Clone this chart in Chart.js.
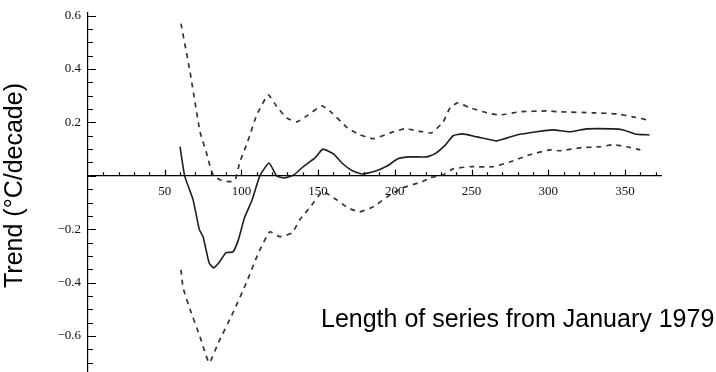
<!DOCTYPE html>
<html lang="en">
<head>
<meta charset="UTF-8">
<title>Trend vs length of series</title>
<script src="https://cdn.jsdelivr.net/npm/chart.js"></script>
<style>
  html, body { margin: 0; padding: 0; background: #ffffff; }
  #wrap { width: 716px; height: 372px; }
</style>
<script>
  // length of series (months) and trend values
  const trendLen = [60, 63, 68.5, 72.5, 75, 79, 82, 86, 90, 94.5, 98, 102, 107, 112, 118, 123, 128, 134, 140, 148, 153, 160, 165.5, 172, 178.5, 186, 195, 202, 210, 221, 226, 233, 238, 244, 253.5, 266.5, 279.5, 292.5, 303, 314, 325, 342, 349, 356.5, 366];
  const trend = [0.109, 0, -0.09, -0.2, -0.228, -0.327, -0.345, -0.32, -0.288, -0.285, -0.24, -0.157, -0.09, 0, 0.048, 0, -0.008, 0.003, 0.033, 0.067, 0.10, 0.082, 0.048, 0.02, 0.007, 0.015, 0.037, 0.064, 0.071, 0.071, 0.082, 0.116, 0.15, 0.157, 0.146, 0.131, 0.153, 0.165, 0.172, 0.165, 0.176, 0.176, 0.172, 0.157, 0.153];

  const upperLen = [60.6, 66.5, 73, 77, 81, 86, 92.5, 96, 99, 104, 110, 117.5, 123, 129.5, 136, 143.5, 152.5, 159, 169, 177, 186, 197, 206.5, 218, 224, 231.5, 236, 241, 249, 260, 268.5, 281.5, 299, 307.5, 329, 345, 355, 364.5];
  const upper = [0.57, 0.39, 0.165, 0.09, 0.01, -0.015, -0.022, -0.015, 0.052, 0.127, 0.228, 0.303, 0.26, 0.217, 0.202, 0.228, 0.262, 0.236, 0.18, 0.154, 0.139, 0.161, 0.176, 0.165, 0.161, 0.202, 0.255, 0.273, 0.255, 0.236, 0.228, 0.24, 0.243, 0.24, 0.236, 0.232, 0.221, 0.21];

  const lowerLen = [60.6, 62, 66.5, 73, 79, 85, 94.5, 103.5, 111, 118.5, 125, 133, 138, 145, 153, 162, 169.5, 177, 186, 195, 205, 218, 223, 231.5, 238, 249, 264, 275, 288, 301, 307.5, 320.5, 334, 342, 351, 360];
  const lower = [-0.352, -0.42, -0.50, -0.603, -0.70, -0.625, -0.513, -0.397, -0.29, -0.21, -0.228, -0.214, -0.165, -0.116, -0.06, -0.09, -0.12, -0.135, -0.116, -0.079, -0.045, -0.022, -0.007, 0.004, 0.026, 0.034, 0.034, 0.052, 0.079, 0.097, 0.094, 0.105, 0.109, 0.116, 0.109, 0.097];

  // labelled ticks
  const xTickLabels = [50, 100, 150, 200, 250, 300, 350];
  const yTickLabels = [-0.6, -0.4, -0.2, 0.2, 0.4, 0.6];

  const xTitle = 'Length of series from January 1979';
  const yTitle = 'Trend (\u00b0C/decade)';

  function pontos(xs, ys) {
    return xs.map((v, i) => ({ x: v, y: ys[i] }));
  }

  function naGrade(v, passo) {
    return Math.abs(v / passo - Math.round(v / passo)) < 1e-6;
  }

  // tick marks pointing into the plot, like the original
  const marcasInternas = {
    id: 'marcasInternas',
    afterDraw(chart) {
      const ctx = chart.ctx;
      const x = chart.scales.x, y = chart.scales.y;
      const y0 = y.getPixelForValue(0);
      const x0 = x.getPixelForValue(0);
      ctx.save();
      ctx.strokeStyle = '#000';
      ctx.lineWidth = 1.2;
      ctx.beginPath();
      x.ticks.forEach(t => {
        if (t.value <= 0 || !naGrade(t.value, 10)) return;
        const px = Math.round(x.getPixelForValue(t.value)) + 0.5;
        const len = naGrade(t.value, 50) ? 6 : 3.5;
        ctx.moveTo(px, y0);
        ctx.lineTo(px, y0 - len);
      });
      y.ticks.forEach(t => {
        if (!naGrade(t.value, 0.05)) return;
        const py = Math.round(y.getPixelForValue(t.value)) + 0.5;
        const len = naGrade(t.value, 0.2) ? 8 : 5;
        ctx.moveTo(x0, py);
        ctx.lineTo(x0 + len, py);
      });
      ctx.stroke();

      // axis titles
      ctx.fillStyle = '#000';
      ctx.font = '25px "Liberation Sans", Arial, sans-serif';
      ctx.textAlign = 'left';
      ctx.textBaseline = 'alphabetic';
      ctx.fillText(xTitle, 321, 327);

      ctx.translate(15, 185.5);
      ctx.rotate(-Math.PI / 2);
      ctx.textAlign = 'center';
      ctx.textBaseline = 'middle';
      ctx.fillText(yTitle, 0, 0);
      ctx.restore();
    }
  };

  function desenhar() {
    const fonteTicks = { family: '"Liberation Serif", "Times New Roman", serif', size: 13 };
    new Chart(document.getElementById('grafico'), {
      type: 'line',
      data: {
        datasets: [
          { data: pontos(trendLen, trend), borderColor: '#1e1e1e', borderWidth: 1.6, tension: 0.15 },
          { data: pontos(upperLen, upper), borderColor: '#333', borderWidth: 1.7, borderDash: [5, 5], tension: 0.15 },
          { data: pontos(lowerLen, lower), borderColor: '#333', borderWidth: 1.7, borderDash: [5, 5], tension: 0.15 }
        ]
      },
      options: {
        responsive: false,
        animation: false,
        parsing: false,
        layout: { padding: { top: 13, right: 55, bottom: 0, left: 0 } },
        elements: { point: { radius: 0 } },
        plugins: { legend: { display: false }, tooltip: { enabled: false } },
        scales: {
          x: {
            type: 'linear',
            position: { y: 0 },
            min: 0,
            max: 373.5,
            afterFit: s => { s.height = 0; s.paddingLeft = 0; s.paddingRight = 0; s.paddingTop = 0; s.paddingBottom = 0; },
            grid: { display: true, drawOnChartArea: false, drawTicks: false },
            border: { display: true, color: '#000', width: 1.2 },
            ticks: {
              stepSize: 10,
              includeBounds: false,
              autoSkip: false,
              maxRotation: 0,
              padding: 8,
              color: '#111',
              font: fonteTicks,
              callback: v => xTickLabels.includes(v) ? String(v) : ''
            }
          },
          y: {
            type: 'linear',
            min: -0.735,
            max: 0.61,
            afterFit: s => { s.width = 88; s.paddingTop = 0; s.paddingBottom = 0; },
            grid: { display: true, drawOnChartArea: false, drawTicks: false },
            border: { display: true, color: '#000', width: 1.2 },
            ticks: {
              stepSize: 0.05,
              includeBounds: false,
              autoSkip: false,
              padding: 7,
              color: '#111',
              font: fonteTicks,
              callback: v => {
                const r = Math.round(v * 100) / 100;
                if (!yTickLabels.includes(r)) return '';
                return (r < 0 ? '\u2212' : '') + Math.abs(r).toFixed(1);
              }
            }
          }
        }
      },
      plugins: [marcasInternas]
    });
  }
</script>
</head>
<body onload="desenhar()">
  <div id="wrap">
    <canvas id="grafico" width="716" height="372"></canvas>
  </div>
</body>
</html>
